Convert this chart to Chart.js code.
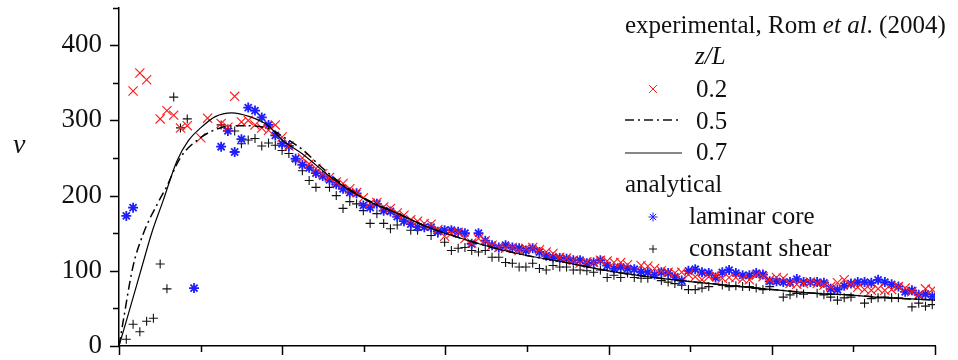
<!DOCTYPE html>
<html>
<head>
<meta charset="utf-8">
<script src="https://cdn.jsdelivr.net/npm/chart.js@4.4.1/dist/chart.umd.min.js"></script>
<style>
  html, body { margin: 0; padding: 0; background: #fff; }
</style>
</head>
<body>
<canvas id="chart" width="958" height="360"></canvas>
<script>
// marker samples sit on an even grid along x (0..10, unlabelled axis)
const sampleStart = 0.0895;
const sampleStep = 0.083;

// red x : experimental z/L = 0.2
const redVals = [
  null, 339, 363, 354, null, 302, 313, 307, 290, 293,
  null, 277, 303, null, 296, 291, 332, 298, 300, 294,
  290, 287, 294, 278, 266, null, 250, 242, 236, 229,
  224, 218, 216, 209, 204, 197, 190, 191, 185, 183,
  177, 174, 168, 166, 163, 162, 155, 146, 150, 151,
  143, 137, 143, 140, 134, 131, 130, 131, 127, 130,
  131, 128, 125, 123, 118, 117, 114, 110, 112, 111,
  114, 113, 111, 111, 108, null, 107, 106, 103, 100,
  98, 97, 98, 95, 92, 88, 92, 94, 90, 91,
  91, 89, 88, 94, 92, 88, 91, 90, 83, 82,
  83, 85, 83, 81, 79, 84, 88, 82, 78, 75,
  74, 76, 74, 75, 79, 77, 72, 68, 76, 75
];

// blue * : laminar core
const blueVals = [
  173, 184, null, null, null, null, null, null, null, null,
  77, null, null, null, 265, 286, 258, 275, 317, 313,
  304, 294, 280, 269, 266, 249, 241, 237, 230, 226,
  221, 215, 209, 204, 203, 187, 184, 189, 180, 179,
  172, 166, 162, 158, 158, 158, 152, 154, 154, 152,
  150, 136, 150, 140, 134, 131, 134, 131, 130, 127,
  130, 125, 120, 118, 117, 116, 114, 114, 110, 111,
  114, 107, 103, 105, 103, 102, 99, 98, 95, 98,
  97, 92, 87, 100, 102, 98, 97, 91, 98, 101,
  97, 94, 94, 97, 95, 86, 86, 85, 85, 89,
  85, 85, 85, 84, 76, 75, 80, 83, 85, 85,
  84, 88, 85, 82, 79, 72, 74, 68, 69, 66
];

// black + : constant shear
const blackVals = [
  9, 29, 19, 33, 37, 109, 76, 331, 290, 302,
  null, null, null, null, 294, 289, 286, 269, 274, 276,
  266, 270, 267, 260, 256, 246, 233, 220, 211, null,
  211, 200, 183, 192, 189, 180, 163, 176, 163, 156,
  161, null, 154, 154, null, 147, 150, 138, 127, 130,
  131, 127, 125, 127, 118, 118, 111, 110, 105, 105,
  110, 103, 101, 107, 105, 105, 101, 101, 100, 98,
  101, 91, 94, 91, 97, 91, 90, 90, null, 87,
  85, 83, 81, 75, 75, 77, 79, null, 81, 79,
  80, 79, 79, 77, 75, 79, null, 65, 68, 70,
  69, null, 70, 68, 65, 61, 64, 65, null, 57,
  63, 64, 65, 64, 64, null, 52, 57, 53, 55
];

// dash-dot curve (z/L = 0.5)
const dashX = [0, 0.05, 0.17, 0.3, 0.49, 0.58, 0.75, 1.0, 1.24, 1.48, 1.81, 2.06, 2.26, 2.5, 2.8, 3.05, 3.42, 3.79, 4.2, 4.61, 5.01, 5.38, 5.75, 6.16, 6.57, 6.97, 7.34, 7.71, 8.12, 8.53, 8.93, 9.3, 10];
const dashV = [0, 32, 105, 150, 193, 211, 250, 277, 290, 293, 290, 275, 260, 236, 210, 194, 176, 158, 143, 130, 120, 113, 105, 97, 91, 86, 82, 78, 74, 70, 68, 65, 61];

// solid curve (z/L = 0.7)
const solidX = [0, 0.1, 0.28, 0.4, 0.54, 0.71, 0.85, 1.0, 1.18, 1.38, 1.6, 1.83, 2.0, 2.24, 2.65, 3.05, 3.42, 3.79, 4.2, 4.61, 5.01, 5.38, 5.75, 6.16, 6.57, 6.97, 7.34, 7.71, 8.12, 8.53, 8.93, 9.3, 10];
const solidV = [0, 37, 105, 150, 193, 246, 273, 290, 305, 310, 305, 293, 274, 256, 220, 193, 176, 158, 143, 130, 120, 113, 105, 97, 91, 86, 82, 78, 74, 70, 68, 65, 61];

const yTickValues = [0, 50, 100, 150, 200, 250, 300, 350, 400, 450];
const xTickValues = [0, 1, 2, 3, 4, 5, 6, 7, 8, 9, 10];

const serif = '"Liberation Serif", "DejaVu Serif", serif';
const red = '#ff1a1a';
const blue = '#1f1fff';

function toPoints(vals) {
  const pts = [];
  vals.forEach((v, i) => {
    if (v !== null) pts.push({ x: sampleStart + i * sampleStep, y: v });
  });
  return pts;
}
function toCurve(xs, vs) {
  return xs.map((x, i) => ({ x: x, y: vs[i] }));
}

// tick marks: long on major, short on minor
const axisTicks = {
  id: 'axisTicks',
  afterDraw(chart) {
    const ctx = chart.ctx;
    const xs = chart.scales.x, ys = chart.scales.y;
    ctx.save();
    ctx.strokeStyle = '#000';
    ctx.lineWidth = 1.5;
    ctx.beginPath();
    yTickValues.forEach(v => {
      const py = Math.round(ys.getPixelForValue(v)) + 0.5;
      const len = v % 100 === 0 ? 9 : 6;
      ctx.moveTo(xs.left - len, py);
      ctx.lineTo(xs.left, py);
    });
    xTickValues.forEach(v => {
      const px = Math.round(xs.getPixelForValue(v)) + 0.5;
      const len = v % 2 === 0 ? 9 : 6;
      ctx.moveTo(px, ys.bottom);
      ctx.lineTo(px, ys.bottom + len);
    });
    ctx.stroke();
    ctx.restore();
  }
};

function marker(ctx, style, r, bw, color, x, y) {
  ctx.save();
  ctx.strokeStyle = color;
  ctx.fillStyle = color;
  Chart.helpers.drawPoint(ctx, { pointStyle: style, radius: r, borderWidth: bw, rotation: 0 }, x, y);
  ctx.restore();
}

// legend and y label drawn by hand
const legendBox = {
  id: 'legendBox',
  afterDraw(chart) {
    const ctx = chart.ctx;
    ctx.save();
    ctx.fillStyle = '#111';
    ctx.textBaseline = 'alphabetic';
    ctx.textAlign = 'left';

    // y axis label
    ctx.font = 'italic 28px ' + serif;
    ctx.fillText('v', 13, 153);

    const norm = '25px ' + serif, ital = 'italic 25px ' + serif;
    let x = 625;
    ctx.font = norm;
    ctx.fillText('experimental, Rom ', x, 33);
    x += ctx.measureText('experimental, Rom ').width;
    ctx.font = ital;
    ctx.fillText('et al', x, 33);
    x += ctx.measureText('et al').width;
    ctx.font = norm;
    ctx.fillText('. (2004)', x, 33);

    ctx.font = ital;
    ctx.fillText('z/L', 695, 64);

    ctx.font = norm;
    ctx.fillText('0.2', 696, 97);
    ctx.fillText('0.5', 696, 129);
    ctx.fillText('0.7', 696, 160);
    ctx.fillText('analytical', 625, 192);
    ctx.fillText('laminar core', 689, 224);
    ctx.fillText('constant shear', 689, 256);

    marker(ctx, 'crossRot', 5.5, 1, red, 653, 89);
    marker(ctx, 'star', 4.5, 1.6, blue, 653, 217);
    marker(ctx, 'cross', 4, 1, '#111', 653, 249);

    ctx.strokeStyle = '#111';
    ctx.lineWidth = 1.5;
    ctx.setLineDash([9, 4, 2, 4]);
    ctx.beginPath();
    ctx.moveTo(625, 120);
    ctx.lineTo(681, 120);
    ctx.stroke();
    ctx.setLineDash([]);
    ctx.lineWidth = 1.2;
    ctx.beginPath();
    ctx.moveTo(625, 153);
    ctx.lineTo(682, 153);
    ctx.stroke();
    ctx.restore();
  }
};

new Chart(document.getElementById('chart'), {
  type: 'scatter',
  data: {
    datasets: [
      {
        label: '0.7',
        data: toCurve(solidX, solidV),
        showLine: true,
        borderColor: '#000',
        borderWidth: 1.2,
        pointRadius: 0,
        cubicInterpolationMode: 'monotone'
      },
      {
        label: '0.5',
        data: toCurve(dashX, dashV),
        showLine: true,
        borderColor: '#000',
        borderWidth: 1.5,
        borderDash: [9, 4, 2, 4],
        pointRadius: 0,
        cubicInterpolationMode: 'monotone'
      },
      {
        label: '0.2',
        data: toPoints(redVals),
        pointStyle: 'crossRot',
        pointRadius: 6.5,
        pointBorderWidth: 1.1,
        pointBorderColor: red,
        pointBackgroundColor: red
      },
      {
        label: 'laminar core',
        data: toPoints(blueVals),
        pointStyle: 'star',
        pointRadius: 5,
        pointBorderWidth: 1.8,
        pointBorderColor: blue,
        pointBackgroundColor: blue
      },
      {
        label: 'constant shear',
        data: toPoints(blackVals),
        pointStyle: 'cross',
        pointRadius: 4.5,
        pointBorderWidth: 1.1,
        pointBorderColor: '#111',
        pointBackgroundColor: '#111'
      }
    ]
  },
  options: {
    responsive: false,
    animation: false,
    layout: { padding: { top: 6, right: 23, bottom: 0, left: 0 } },
    plugins: {
      legend: { display: false },
      tooltip: { enabled: false }
    },
    scales: {
      x: {
        type: 'linear',
        min: 0,
        max: 10,
        afterFit(scale) {
          scale.height = 14;
          scale.paddingLeft = 0;
          scale.paddingRight = 0;
        },
        grid: { display: false, drawTicks: false },
        border: { display: true, color: '#000', width: 1.5 },
        ticks: { display: false }
      },
      y: {
        min: 0,
        max: 450,
        afterFit(scale) {
          scale.width = 119;
          scale.paddingTop = 0;
          scale.paddingBottom = 0;
        },
        grid: { display: false, drawTicks: false },
        border: { display: true, color: '#000', width: 1.5 },
        ticks: {
          stepSize: 50,
          padding: 17,
          color: '#111',
          font: { family: serif, size: 27 },
          callback: v => (v % 100 === 0 ? String(v) : '')
        }
      }
    }
  },
  plugins: [axisTicks, legendBox]
});
</script>
</body>
</html>
